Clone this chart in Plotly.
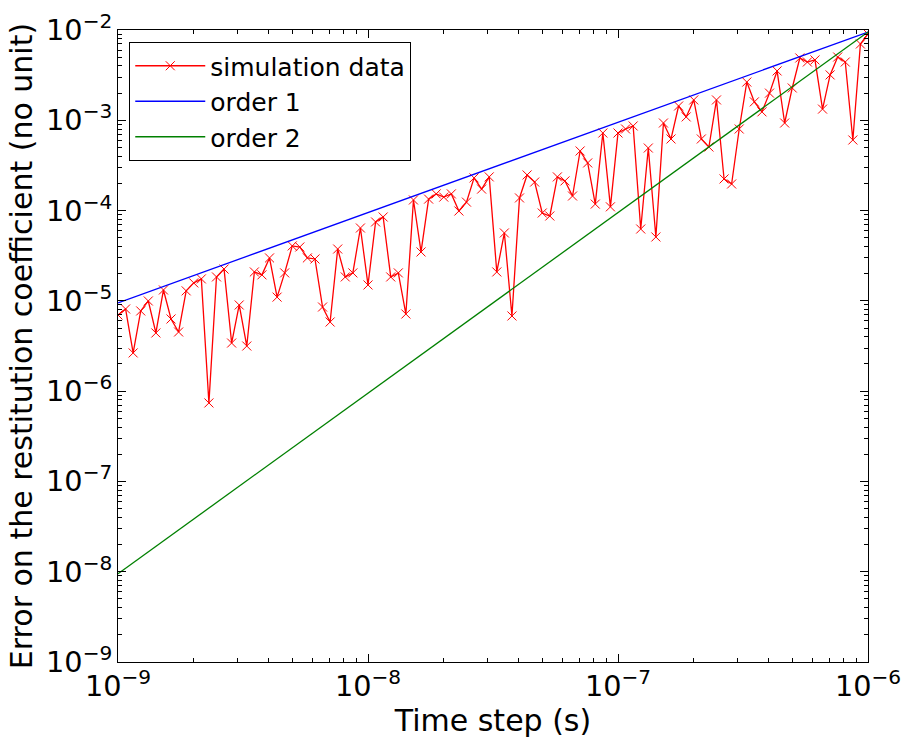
import numpy as np
import plotly.graph_objects as go

# Time steps (s): 100 log-spaced steps between 1e-9 and 1e-6
time_step = np.logspace(-9, -6, 100)

# Error on restitution coefficient
sim_error = [
    6.97e-6, 8.13e-6, 2.65e-6, 7.73e-6, 9.97e-6, 4.41e-6, 1.32e-5, 6.30e-6, 4.52e-6, 1.29e-5,
    1.58e-5, 1.75e-5, 7.40e-7, 1.84e-5, 2.25e-5, 3.41e-6, 9.0e-6, 3.16e-6, 2.09e-5, 1.94e-5,
    2.99e-5, 1.10e-5, 2.04e-5, 4.06e-5, 3.95e-5, 2.99e-5, 2.91e-5, 8.55e-6, 5.83e-6, 3.75e-5,
    1.84e-5, 2.04e-5, 6.41e-5, 1.50e-5, 7.48e-5, 8.49e-5, 1.84e-5, 2.04e-5, 7.15e-6, 1.31e-4,
    3.48e-5, 1.34e-4, 1.53e-4, 1.41e-4, 1.53e-4, 9.89e-5, 1.24e-4, 2.30e-4, 1.73e-4, 2.36e-4,
    2.09e-5, 5.65e-5, 6.80e-6, 1.38e-4, 2.48e-4, 2.07e-4, 9.40e-5, 8.71e-5, 2.36e-4, 2.13e-4,
    1.45e-4, 4.57e-4, 3.37e-4, 1.18e-4, 7.23e-4, 1.10e-4, 7.23e-4, 8.01e-4, 8.65e-4, 6.25e-5,
    4.93e-4, 5.10e-5, 9.33e-4, 6.21e-4, 1.44e-3, 1.09e-3, 1.68e-3, 6.21e-4, 5.06e-4, 1.68e-3,
    2.24e-4, 1.97e-4, 8.01e-4, 2.65e-3, 1.60e-3, 1.24e-3, 2.00e-3, 3.52e-3, 9.33e-4, 2.28e-3,
    4.90e-3, 4.42e-3, 4.66e-3, 1.33e-3, 3.18e-3, 5.02e-3, 4.42e-3, 6.05e-4, 7.00e-3, 9.03e-3,
]

# Reference slopes anchored at the largest time step
anchor_value = 9.5e-3
order1 = [anchor_value * (t / 1e-6) for t in time_step]
order2 = [anchor_value * (t / 1e-6) ** 2 for t in time_step]

FONT = "DejaVu Sans"

fig = go.Figure()
fig.add_trace(go.Scatter(
    x=time_step, y=sim_error, mode="lines+markers", name="simulation data",
    line=dict(color="#ff0000", width=1.3),
    marker=dict(symbol="x-thin", size=9, color="#ff0000", line=dict(width=1, color="#ff0000")),
))
fig.add_trace(go.Scatter(
    x=time_step, y=order1, mode="lines", name="order 1",
    line=dict(color="#0000ff", width=1.3),
))
fig.add_trace(go.Scatter(
    x=time_step, y=order2, mode="lines", name="order 2",
    line=dict(color="#008000", width=1.3),
))

axis_common = dict(
    type="log", showgrid=False, zeroline=False, automargin=False,
    showline=True, linecolor="black", linewidth=1.2, mirror="allticks",
    ticks="inside", ticklen=8, tickwidth=1, tickcolor="black",
    dtick=1, exponentformat="power", ticklabeloverflow="allow",
    tickfont=dict(family=FONT, size=23, color="black"),
    minor=dict(ticks="inside", ticklen=4, tickwidth=1, tickcolor="black", dtick="D1", showgrid=False),
)

fig.update_layout(
    width=902, height=740,
    margin=dict(l=118, r=34, t=30, b=78, autoexpand=False),
    paper_bgcolor="white", plot_bgcolor="white",
    font=dict(family=FONT, color="black"),
    xaxis=dict(axis_common, range=[-9.00001, -5.99999],
               title=dict(text="Time step (s)", font=dict(family=FONT, size=30), standoff=5)),
    yaxis=dict(axis_common, range=[-9.00001, -1.99999],
               title=dict(text="Error on the restitution coefficient (no unit)",
                          font=dict(family=FONT, size=30), standoff=4)),
    legend=dict(x=0.015, y=0.981, xanchor="left", yanchor="top",
                bgcolor="white", bordercolor="black", borderwidth=1,
                itemwidth=70, tracegroupgap=0,
                font=dict(family=FONT, size=25)),
    showlegend=True,
)

fig.write_html("out.html")
